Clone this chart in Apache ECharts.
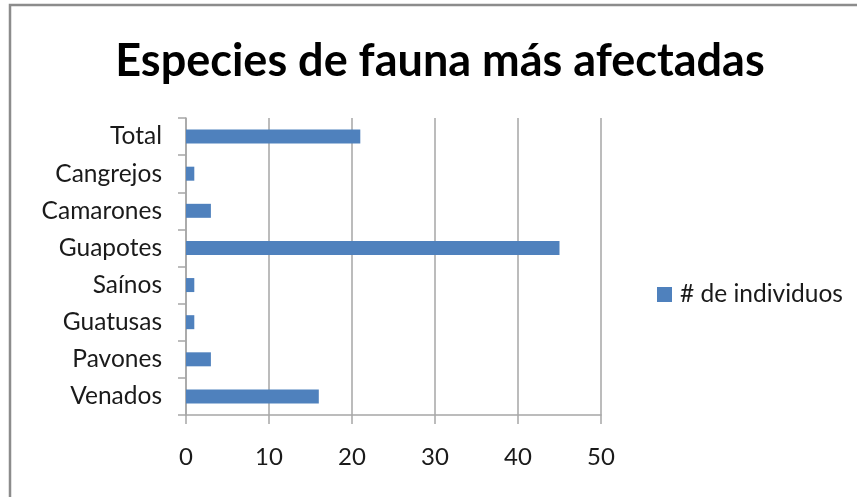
<!DOCTYPE html>
<html>
<head>
<meta charset="utf-8">
<script src="https://cdn.jsdelivr.net/npm/echarts@6/dist/echarts.min.js"></script>
<style>
  html, body { margin: 0; padding: 0; background: #fff; }
  #chart { width: 857px; height: 497px; }
</style>
</head>
<body>
<div id="chart"></div>
<script>
// datos (de abajo hacia arriba)
const categorias = ["Venados", "Pavones", "Guatusas", "Saínos", "Guapotes", "Camarones", "Cangrejos", "Total"];
const individuos = [16, 3, 1, 1, 45, 3, 1, 21];
const nombreSerie = "# de individuos";
const titulo = "Especies de fauna más afectadas";

const fuente = "Lato, 'Open Sans', sans-serif";
const gris = "#a6a6a6";

const chart = echarts.init(document.getElementById("chart"), null, { renderer: "canvas" });

const options = {
  animation: false,
  backgroundColor: "#fff",
  // marco del área del gráfico (se sale por la derecha y abajo)
  graphic: [
    {
      type: "rect",
      shape: { x: 10, y: 5, width: 900, height: 600 },
      style: { fill: "none", stroke: "#8c8c8c", lineWidth: 2.5 },
      silent: true,
    },
  ],
  title: {
    text: titulo,
    left: 435,
    textAlign: "center",
    top: 34,
    textStyle: {
      fontFamily: fuente,
      fontWeight: "bold",
      fontSize: 45,
      color: "#000",
    },
  },
  legend: {
    data: [nombreSerie],
    orient: "vertical",
    left: 657,
    top: 282,
    padding: 0,
    itemWidth: 15,
    itemHeight: 15,
    itemGap: 0,
    icon: "rect",
    textStyle: { fontFamily: fuente, fontSize: 24.5, color: "#1a1a1a", padding: [0, 0, 0, 3] },
  },
  grid: {
    left: 186,
    right: 256,
    top: 118,
    bottom: 82,
    containLabel: false,
  },
  xAxis: {
    type: "value",
    min: 0,
    max: 50,
    interval: 10,
    axisLine: { show: true, lineStyle: { color: gris, width: 1.5 } },
    axisTick: { show: true, length: 9, lineStyle: { color: gris, width: 1.5 } },
    axisLabel: { margin: 30, fontFamily: fuente, fontSize: 24, color: "#1a1a1a" },
    splitLine: { show: true, lineStyle: { color: gris, width: 1.5 } },
  },
  yAxis: {
    type: "category",
    data: categorias,
    axisLine: { show: true, lineStyle: { color: gris, width: 1.5 } },
    axisTick: { show: true, length: 8, lineStyle: { color: gris, width: 1.5 } },
    axisLabel: { margin: 24, fontFamily: fuente, fontSize: 24.5, color: "#1a1a1a" },
  },
  series: [
    {
      name: nombreSerie,
      type: "bar",
      data: individuos,
      barWidth: 14,
      itemStyle: { color: "#4f81bd" },
    },
  ],
};

chart.setOption(options);

window.addEventListener("resize", () => {
  chart.resize();
});
</script>
</body>
</html>
